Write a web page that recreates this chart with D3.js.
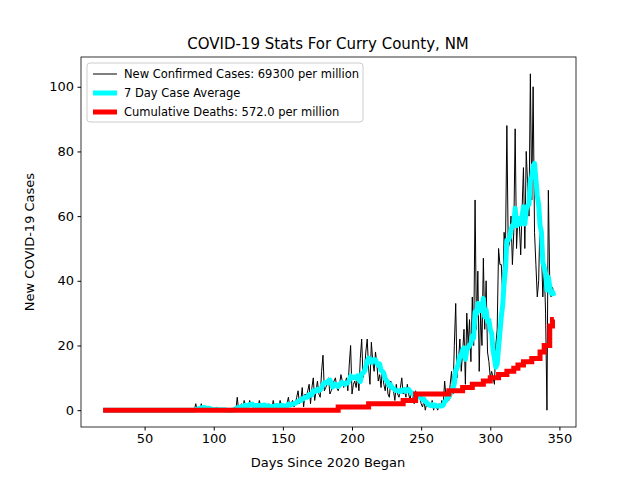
<!DOCTYPE html><html><head><script src="https://cdn.jsdelivr.net/npm/d3@7"></script>
<style>body{margin:0;background:#fff}text{font-family:"DejaVu Sans",sans-serif}</style></head><body><svg id="c" width="640" height="480"></svg>
<script>
const startDay = 20;
const daily = [].concat(
 new Array(66).fill(0),
 [0,2,0,1,0,2,0,1,0,0],
 [1,0,0,0,0,0,1,0,0,0],
 [0,0,0,0,0,0,0,0,0,1],
 [0,4,0,1,2,0,3,1,2,1],
 [3,1,2,0,1,2,1,3,1,1],
 [2,1,0,1,2,1,0,3,1,2],
 [1,0,3,1,2,0,1,2,4,1],
 [2,3,1,2,4,6,2,3,7,1],
 [5,4,6,8,2,7,10,3,6,9],
 [5,4,12,17,6,7,8,10,5,6],
 [8,9,10,7,6,8,11,9,7,8],
 [10,6,14,20,5,8,9,7,11,6],
 [16,22,10,12,18,22,13,8,21,15],
 [12,18,14,9,11,7,13,8,6,10],
 [5,4,9,7,6,3,8,5,4,7],
 [10,5,6,4,8,5,3,6,4,2],
 [6,3,5,4,2,1,3,0,2,1],
 [2,1,3,0,2,1,0,2,1,3],
 [2,9,4,6,3,8,12,5,20,33],
 [10,15,22,12,18,25,8,30,20,28],
 [15,35,20,65,25,43,12,30,20,47],
 [25,40,18,15,10,12,10,8,20,25],
 [50,45,45,35,55,50,88,50,52,60],
 [45,55,87,50,60,58,48,62,75,50],
 [80,70,60,104,65,100,55,45,35,40],
 [60,50,35,45,30,0,68,40,35,38,36]
);
const deathDays = [20,190,212,237,246,270,280,287,295,300,306,312,317,320,324,330,336,339,343,345,346];
const deathVals = [0,1,2,3,5,6,7,8,9,10,11,12,13,14,15,16,18,20,26,28,28];
const xTicks=[50,100,150,200,250,300,350], yTicks=[0,20,40,60,80,100];

const svg=d3.select("#c");
const m={l:81,r:576,t:57,b:427};
const x=d3.scaleLinear().domain([4,362]).range([m.l,m.r]);
const y=d3.scaleLinear().domain([-5.2,109.2]).range([m.b,m.t]);
const pts=daily.map((v,i)=>({d:startDay+i,v}));
const avg=pts.map((p,i)=>{const s=daily.slice(Math.max(0,i-6),i+1);return {d:p.d,v:d3.mean(s)};});
const g=svg.append("g");
g.append("defs").append("clipPath").attr("id","cl").append("rect").attr("x",m.l).attr("y",m.t).attr("width",m.r-m.l).attr("height",m.b-m.t);
const L=d3.line().x(p=>x(p.d)).y(p=>y(p.v));
const pl=g.append("g").attr("clip-path","url(#cl)");
pl.append("path").attr("d",L(pts)).attr("fill","none").attr("stroke","#000").attr("stroke-width",1);
pl.append("path").attr("d",L(avg)).attr("fill","none").attr("stroke","#00ffff").attr("stroke-width",5).attr("stroke-linejoin","round");
const dp=deathDays.map((d,i)=>({d,v:deathVals[i]}));
pl.append("path").attr("d",d3.line().x(p=>x(p.d)).y(p=>y(p.v)).curve(d3.curveStepAfter)(dp)).attr("fill","none").attr("stroke","#ff0000").attr("stroke-width",5);
g.append("rect").attr("x",m.l).attr("y",m.t).attr("width",m.r-m.l).attr("height",m.b-m.t).attr("fill","none").attr("stroke","#000").attr("stroke-width",0.8);
const xa=g.append("g").attr("transform",`translate(0,${m.b})`).call(d3.axisBottom(x).tickValues(xTicks).tickSizeOuter(0).tickSize(3.5).tickPadding(3.5));
const ya=g.append("g").attr("transform",`translate(${m.l},0)`).call(d3.axisLeft(y).tickValues(yTicks).tickSizeOuter(0).tickSize(3.5).tickPadding(3.5));
[xa,ya].forEach(a=>{a.select(".domain").remove();a.selectAll("text").style("font-size","13px").style("font-family","DejaVu Sans").attr("fill","#000");});
svg.append("text").attr("x",328).attr("y",49).attr("text-anchor","middle").style("font-size","15px").text("COVID-19 Stats For Curry County, NM");
svg.append("text").attr("x",328).attr("y",467).attr("text-anchor","middle").style("font-size","13px").text("Days Since 2020 Began");
svg.append("text").attr("transform","translate(34,242) rotate(-90)").attr("text-anchor","middle").style("font-size","13px").text("New COVID-19 Cases");
const lg=svg.append("g");
lg.append("rect").attr("x",87).attr("y",63).attr("width",276).attr("height",59).attr("rx",3).attr("fill","#fff").attr("stroke","#ccc");
const items=[["New Confirmed Cases: 69300 per million","#000",1],["7 Day Case Average","#00ffff",5],["Cumulative Deaths: 572.0 per million","#ff0000",5]];
items.forEach((it,i)=>{const yy=74+i*19;
lg.append("line").attr("x1",93).attr("x2",117).attr("y1",yy).attr("y2",yy).attr("stroke",it[1]).attr("stroke-width",it[2]);
lg.append("text").attr("x",124).attr("y",yy+4).style("font-size","11.5px").text(it[0]);});
</script></body></html>
